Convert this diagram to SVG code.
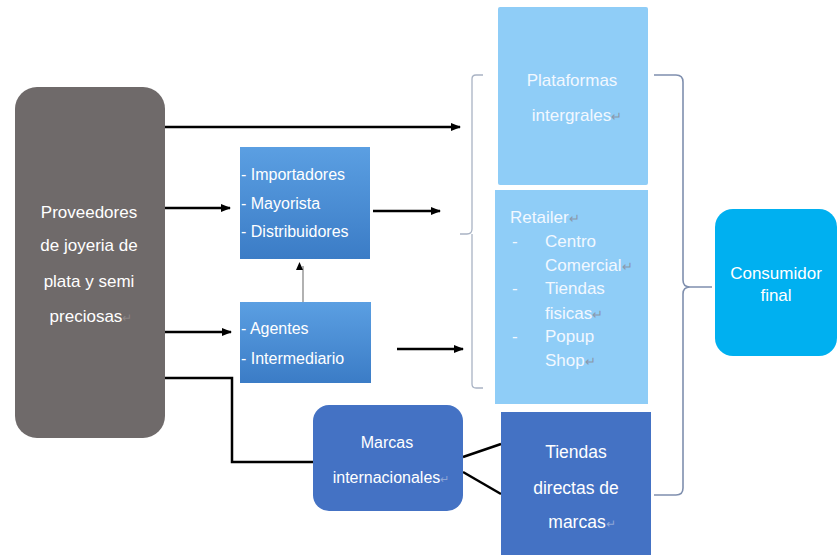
<svg xmlns="http://www.w3.org/2000/svg" width="837" height="555" viewBox="0 0 837 555">
<style>
text{font-family:"Liberation Sans","Noto Sans",Arial,sans-serif}
.w{fill:#ffffff}
.lt{fill:#f2f8ff}
.ret{fill:#8a98ab}
.conn{stroke:#000;stroke-width:2.5;fill:none}
.br{stroke:#7f8fae;stroke-width:1.6;fill:none}
.brl{stroke:#a9b3c4;stroke-width:1.3;fill:none}
</style>
<defs>
<marker id="ah" markerWidth="10" markerHeight="8" refX="9" refY="4" orient="auto" markerUnits="userSpaceOnUse">
<path d="M0,0 L10,4 L0,8 Z" fill="#000"/>
</marker>
<marker id="ahs" markerWidth="8" markerHeight="7" refX="4" refY="7" orient="auto" markerUnits="userSpaceOnUse">
<path d="M0,0 L8,3.5 L0,7 Z" fill="#000"/>
</marker>
<linearGradient id="bg" x1="0" y1="0" x2="0" y2="1">
<stop offset="0" stop-color="#5b9fe2"/>
<stop offset="1" stop-color="#3b7cc6"/>
</linearGradient>
</defs>
<rect width="837" height="555" fill="#fff"/>

<g id="connectors">
<line class="conn" x1="165" y1="127" x2="460" y2="127" marker-end="url(#ah)"/>
<line class="conn" x1="165" y1="208" x2="230" y2="208" marker-end="url(#ah)"/>
<line class="conn" x1="165" y1="332" x2="231" y2="332" marker-end="url(#ah)"/>
<polyline class="conn" points="165,378 232,378 232,462 313,462"/>
<line class="conn" x1="373" y1="211" x2="440" y2="211" marker-end="url(#ah)"/>
<line class="conn" x1="397" y1="349" x2="463" y2="349" marker-end="url(#ah)"/>
<line x1="303" y1="302" x2="303" y2="266" stroke="#888" stroke-width="1.3" marker-end="url(#ahs)"/>
<line class="conn" x1="463" y1="457" x2="501" y2="444"/>
<line class="conn" x1="463" y1="472" x2="501" y2="494"/>
<path class="brl" d="M483,75 L476,75 Q472,75 472,79 L472,229 Q472,234 467,234 L460,234 M472,234 Q472,234 472,239 L472,384 Q472,388 476,388 L483,388"/>
<path class="br" d="M654,75 L676,75 Q683,75 683,82 L683,280 Q683,287 690,287 L712,287 M690,287 Q683,287 683,294 L683,488 Q683,495 676,495 L654,495"/>
</g>

<g id="proveedores">
<rect x="15" y="87" width="150" height="351" rx="22" fill="#6f6a6a"/>
<text x="89" y="218" font-size="17" text-anchor="middle" class="w">Proveedores</text>
<text x="89" y="251" font-size="17" text-anchor="middle" class="w">de joyeria de</text>
<text x="89" y="287" font-size="17" text-anchor="middle" class="w">plata y semi</text>
<text x="91" y="322" font-size="17" text-anchor="middle" class="w">preciosas<tspan fill="#8a8585" font-size="12">↵</tspan></text>
</g>

<g id="importadores">
<rect x="240" y="147" width="130" height="112" fill="url(#bg)"/>
<text x="241" y="180" font-size="16" class="w">- Importadores</text>
<text x="241" y="209" font-size="16" class="w">- Mayorista</text>
<text x="241" y="237" font-size="16" class="w">- Distribuidores</text>
</g>

<g id="agentes">
<rect x="240" y="302" width="131" height="81" fill="url(#bg)"/>
<text x="241" y="334" font-size="16" class="w">- Agentes</text>
<text x="241" y="364" font-size="16" class="w">- Intermediario</text>
</g>

<g id="plataformas">
<rect x="498" y="7" width="150" height="178" rx="2" fill="#8fcdf7"/>
<text x="572" y="86" font-size="17" text-anchor="middle" class="lt">Plataformas</text>
<text x="577" y="121" font-size="17" text-anchor="middle" class="lt">intergrales<tspan class="ret" font-size="13">↵</tspan></text>
</g>

<g id="retailer">
<rect x="495" y="190" width="153" height="214" fill="#8fcdf7"/>
<text x="510" y="223" font-size="17" class="lt">Retailer<tspan class="ret" font-size="13">↵</tspan></text>
<text x="512" y="247" font-size="17" class="lt">-</text>
<text x="545" y="247" font-size="17" class="lt">Centro</text>
<text x="545" y="271" font-size="17" class="lt">Comercial<tspan class="ret" font-size="13">↵</tspan></text>
<text x="512" y="294" font-size="17" class="lt">-</text>
<text x="545" y="294" font-size="17" class="lt">Tiendas</text>
<text x="545" y="319" font-size="17" class="lt">fisicas<tspan class="ret" font-size="13">↵</tspan></text>
<text x="512" y="342" font-size="17" class="lt">-</text>
<text x="545" y="342" font-size="17" class="lt">Popup</text>
<text x="545" y="366" font-size="17" class="lt">Shop<tspan class="ret" font-size="13">↵</tspan></text>
</g>

<g id="marcas">
<rect x="313" y="405" width="150" height="106" rx="16" fill="#4472c4"/>
<text x="387" y="448" font-size="16" text-anchor="middle" class="w">Marcas</text>
<text x="391" y="483" font-size="16" text-anchor="middle" class="w">internacionales<tspan fill="#8ea6d6" font-size="11">↵</tspan></text>
</g>

<g id="tiendas">
<rect x="501" y="412" width="150" height="143" fill="#4472c4"/>
<text x="576" y="458" font-size="17.5" text-anchor="middle" class="w">Tiendas</text>
<text x="576" y="494" font-size="17.5" text-anchor="middle" class="w">directas de</text>
<text x="582" y="528" font-size="17.5" text-anchor="middle" class="w">marcas<tspan fill="#8ea6d6" font-size="12">↵</tspan></text>
</g>

<g id="consumidor">
<rect x="715" y="209" width="122" height="147" rx="18" fill="#00b0f0"/>
<text x="776" y="279" font-size="17" text-anchor="middle" class="w">Consumidor</text>
<text x="776" y="301" font-size="17" text-anchor="middle" class="w">final</text>
</g>
</svg>
